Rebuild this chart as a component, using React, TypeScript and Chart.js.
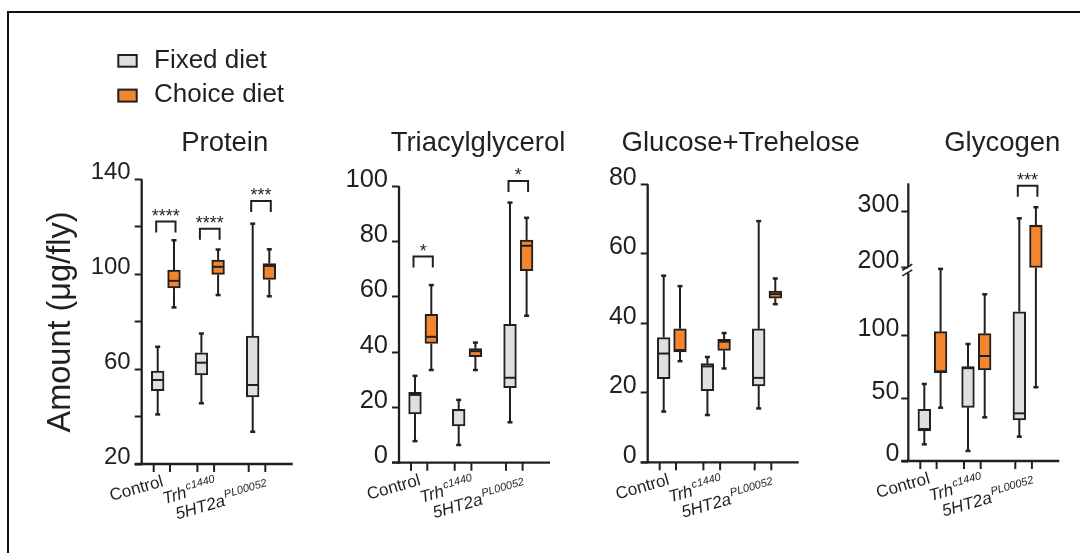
import React, { useEffect, useRef } from "react";
import { Chart, registerables } from "chart.js";

Chart.register(...registerables);

// ---------------- data ----------------
const genotypes = ["Control", "Trh", "5HT2a"];
const genotypeSup = ["", "c1440", "PL00052"];
const genotypeItalic = [false, true, true];
const diets = ["Fixed diet", "Choice diet"];
const titles = ["Protein", "Triacylglycerol", "Glucose+Trehelose", "Glycogen"];
const yAxisTitle = "Amount (μg/fly)";

// five-number summaries per genotype: [min, q1, median, q3, max]
const proteinFixed = [[40.9, 50.9, 55.4, 59.2, 69.4], [45.6, 57.5, 62.7, 66.9, 75], [33.6, 48.3, 53.3, 73.9, 121.3]];
const proteinChoice = [[86, 94.2, 97.2, 101.7, 114.3], [91.2, 99.9, 103.1, 105.9, 110.4], [90.7, 97.8, 103.5, 104.5, 110.5]];
const tagFixed = [[7.8, 17.6, 24.5, 25.4, 31.4], [6.4, 13.3, 19, 19.3, 22.7], [14.6, 27.1, 30.7, 50, 94]];
const tagChoice = [[33.5, 43.1, 45.5, 53.6, 64.2], [33.5, 38.3, 40.3, 41.2, 43.4], [53.1, 69.4, 78.4, 80.5, 88.5]];
const glucoseFixed = [[14.6, 24.1, 31.3, 35.9, 53.7], [13.6, 20.6, 27.6, 28.4, 30.3], [15.5, 22, 24.3, 38.4, 69.4]];
const glucoseChoice = [[29.1, 31.8, 32.3, 38.4, 50.7], [27, 32.2, 34.7, 35.4, 37.2], [45.5, 47.2, 48.4, 49.3, 52.9]];
const glycogenFixed = [[13.3, 23.9, 25.5, 41.2, 61.4], [8, 42.8, 74, 75.2, 93.3], [19.4, 32.7, 38, 119, 288]];
const glycogenChoice = [[42.5, 70.4, 71.5, 103.1, 185], [34.8, 72.6, 83.7, 101.5, 132.9], [58.8, 197, 274, 276, 308]];

// y ticks
const proteinTicks = [20, 40, 60, 80, 100, 120, 140];
const proteinTickLabels = ["20", "", "60", "", "100", "", "140"];
const tagTicks = [0, 20, 40, 60, 80, 100];
const tagTickLabels = ["0", "20", "40", "60", "80", "100"];
const glucoseTicks = [0, 20, 40, 60, 80];
const glucoseTickLabels = ["0", "20", "40", "60", "80"];
const glycogenTicks = [0, 50, 100, 200, 300];
const glycogenTickLabels = ["0", "50", "100", "200", "300"];

// axis ranges
const proteinRange = [20, 140];
const tagRange = [0, 100];
const glucoseRange = [0, 80];
const glycogenRange = [0, 351];
const glycogenBreak = [150, 200];

// significance brackets
const proteinSigGroups = [0, 1, 2];
const proteinSigLevels = [122.2, 119.2, 130.9];
const proteinSigLabels = ["****", "****", "***"];
const tagSigGroups = [0, 2];
const tagSigLevels = [74.5, 101.8];
const tagSigLabels = ["*", "*"];
const glucoseSigGroups: number[] = [];
const glucoseSigLevels: number[] = [];
const glucoseSigLabels: string[] = [];
const glycogenSigGroups = [2];
const glycogenSigLevels = [346.8];
const glycogenSigLabels = ["***"];

// ---------------- style / layout ----------------
const FONT = '"Liberation Sans", Arial, Helvetica, sans-serif';
const INK = "#231f20";
const GREY = "#e0dfdf";
const ORANGE = "#f3862d";
const FILLS = [GREY, ORANGE];
const SLOTS = [16, 32.3, 59.7, 76.4, 111, 127.6];
const XMAX = 151;
const BOX_W = 12.7;
const H = 553;
const GEOM = [
  { axisX: 141.7, top: 179.3, bottom: 464, titleDx: 83, tickPad: 4, tickFont: 24 },
  { axisX: 399, top: 186, bottom: 462.7, titleDx: 79, tickPad: 4, tickFont: 25.5 },
  { axisX: 647.7, top: 184.3, bottom: 462.3, titleDx: 93, tickPad: 4, tickFont: 25 },
  { axisX: 908.3, top: 183.3, bottom: 461, titleDx: 94, tickPad: 2, tickFont: 25 },
];
const LABEL_ANCHORS = [[6.5, 22], [-13.7, 33.5], [-26.5, 41.5]];

const identity = (v: number) => v;
const GAP_U = 4.5;
const UP_RATIO = 0.443;
const glyTf = (v: number) => {
  const [lo, hi] = glycogenBreak;
  if (v <= lo) return v;
  if (v >= hi) return lo + GAP_U + (v - hi) * UP_RATIO;
  return lo + ((v - lo) / (hi - lo)) * GAP_U;
};

type Panel = {
  fixed: number[][];
  choice: number[][];
  ticks: number[];
  tickLabels: string[];
  range: number[];
  sigGroups: number[];
  sigLevels: number[];
  sigLabels: string[];
  tf: (v: number) => number;
  brk?: boolean;
};

const PANELS: Panel[] = [
  { fixed: proteinFixed, choice: proteinChoice, ticks: proteinTicks, tickLabels: proteinTickLabels, range: proteinRange, sigGroups: proteinSigGroups, sigLevels: proteinSigLevels, sigLabels: proteinSigLabels, tf: identity },
  { fixed: tagFixed, choice: tagChoice, ticks: tagTicks, tickLabels: tagTickLabels, range: tagRange, sigGroups: tagSigGroups, sigLevels: tagSigLevels, sigLabels: tagSigLabels, tf: identity },
  { fixed: glucoseFixed, choice: glucoseChoice, ticks: glucoseTicks, tickLabels: glucoseTickLabels, range: glucoseRange, sigGroups: glucoseSigGroups, sigLevels: glucoseSigLevels, sigLabels: glucoseSigLabels, tf: identity },
  { fixed: glycogenFixed, choice: glycogenChoice, ticks: glycogenTicks, tickLabels: glycogenTickLabels, range: glycogenRange, sigGroups: glycogenSigGroups, sigLevels: glycogenSigLevels, sigLabels: glycogenSigLabels, tf: glyTf, brk: true },
];

function canvasGeom(i: number) {
  const g = GEOM[i];
  const left = i === 0 ? 0 : Math.round(g.axisX - 95);
  const right = Math.min(1080, Math.round(g.axisX + XMAX + 75));
  return { left, width: right - left };
}

function line(ctx: CanvasRenderingContext2D, x1: number, y1: number, x2: number, y2: number) {
  ctx.beginPath();
  ctx.moveTo(x1, y1);
  ctx.lineTo(x2, y2);
  ctx.stroke();
}

function makePlugin(p: Panel, i: number) {
  const g = GEOM[i];
  const series = [p.fixed, p.choice];
  return {
    id: "boxExtras" + i,
    beforeDatasetsDraw(chart: any) {
      const ctx: CanvasRenderingContext2D = chart.ctx;
      const xs = chart.scales.x;
      const ys = chart.scales.y;
      ctx.save();
      ctx.strokeStyle = INK;
      series.forEach((ser, k) => {
        ser.forEach((s, gi) => {
          const x = xs.getPixelForValue(SLOTS[2 * gi + k]);
          const yMin = ys.getPixelForValue(p.tf(s[0]));
          const yQ1 = ys.getPixelForValue(p.tf(s[1]));
          const yQ3 = ys.getPixelForValue(p.tf(s[3]));
          const yMax = ys.getPixelForValue(p.tf(s[4]));
          ctx.lineWidth = 2;
          line(ctx, x, yQ3, x, yMax);
          line(ctx, x, yQ1, x, yMin);
          ctx.lineWidth = 2.5;
          line(ctx, x - 2.5, yMax, x + 2.5, yMax);
          line(ctx, x - 2.5, yMin, x + 2.5, yMin);
        });
      });
      ctx.restore();
    },
    afterDatasetsDraw(chart: any) {
      const ctx: CanvasRenderingContext2D = chart.ctx;
      const xs = chart.scales.x;
      const ys = chart.scales.y;
      ctx.save();
      ctx.strokeStyle = INK;
      ctx.lineWidth = 2;
      series.forEach((ser, k) => {
        ser.forEach((s, gi) => {
          const x = xs.getPixelForValue(SLOTS[2 * gi + k]);
          const y = ys.getPixelForValue(p.tf(s[2]));
          line(ctx, x - BOX_W / 2 + 1, y, x + BOX_W / 2 - 1, y);
        });
      });
      ctx.restore();
    },
    afterDraw(chart: any) {
      const ctx: CanvasRenderingContext2D = chart.ctx;
      const xs = chart.scales.x;
      const ys = chart.scales.y;
      const ax = xs.getPixelForValue(0);
      const xr = xs.getPixelForValue(XMAX);
      const yb = ys.getPixelForValue(p.tf(p.range[0]));
      const yt = ys.getPixelForValue(p.tf(p.range[1]));
      ctx.save();
      ctx.strokeStyle = INK;
      ctx.fillStyle = INK;
      ctx.lineCap = "butt";
      // axes
      ctx.lineWidth = 2.3;
      line(ctx, ax - 7, yb, xr, yb);
      if (p.brk) {
        const yLo = ys.getPixelForValue(p.tf(glycogenBreak[0]));
        const yHi = ys.getPixelForValue(p.tf(glycogenBreak[1]));
        line(ctx, ax, yb + 1, ax, yLo);
        line(ctx, ax, yHi, ax, yt);
        ctx.lineWidth = 1.6;
        line(ctx, ax - 6, yLo + 3, ax + 4, yLo - 3);
        line(ctx, ax - 6, yHi + 3, ax + 4, yHi - 3);
      } else {
        line(ctx, ax, yb + 1, ax, yt);
      }
      // x ticks
      ctx.lineWidth = 2;
      SLOTS.forEach((s) => {
        const x = xs.getPixelForValue(s) - 4;
        line(ctx, x, yb, x, yb + 8);
      });
      // brackets
      p.sigGroups.forEach((gi, j) => {
        const x1 = xs.getPixelForValue(SLOTS[2 * gi]) - 1.5;
        const x2 = xs.getPixelForValue(SLOTS[2 * gi + 1]) + 1.5;
        const y = ys.getPixelForValue(p.tf(p.sigLevels[j]));
        ctx.lineWidth = 2;
        ctx.beginPath();
        ctx.moveTo(x1, y + 11);
        ctx.lineTo(x1, y);
        ctx.lineTo(x2, y);
        ctx.lineTo(x2, y + 11);
        ctx.stroke();
        ctx.font = "18px " + FONT;
        ctx.textAlign = "center";
        ctx.textBaseline = "alphabetic";
        const m = ctx.measureText(p.sigLabels[j]);
        const center = y - 9.5;
        const base = center + (m.actualBoundingBoxAscent - m.actualBoundingBoxDescent) / 2;
        ctx.fillText(p.sigLabels[j], (x1 + x2) / 2, base);
      });
      // title
      ctx.font = "27.5px " + FONT;
      ctx.textAlign = "center";
      ctx.textBaseline = "alphabetic";
      ctx.fillText(titles[i], ax + g.titleDx, 151.4);
      // x labels
      genotypes.forEach((name, gi) => {
        const [dx, dy] = LABEL_ANCHORS[gi];
        const x = xs.getPixelForValue(SLOTS[2 * gi]) + dx;
        const y = yb + dy;
        ctx.save();
        ctx.translate(x, y);
        ctx.rotate((-16 * Math.PI) / 180);
        ctx.font = (genotypeItalic[gi] ? "italic " : "") + "17px " + FONT;
        ctx.textAlign = "right";
        ctx.fillText(name, 0, 0);
        if (genotypeSup[gi]) {
          ctx.font = "italic 11px " + FONT;
          ctx.textAlign = "left";
          ctx.fillText(genotypeSup[gi], 1, -7.5);
        }
        ctx.restore();
      });
      if (i === 0) {
        // y-axis title
        ctx.save();
        ctx.translate(70, 322);
        ctx.rotate(-Math.PI / 2);
        ctx.font = "32.5px " + FONT;
        ctx.textAlign = "center";
        ctx.fillText(yAxisTitle, 0, 0);
        ctx.restore();
        // legend
        const boxes = [[118.3, 55, 18.4, 11.7, 68], [118.3, 89.6, 18.4, 12, 102]];
        diets.forEach((d, k) => {
          const [bx, by, bw, bh, base] = boxes[k];
          ctx.fillStyle = FILLS[k];
          ctx.fillRect(bx, by, bw, bh);
          ctx.lineWidth = 2;
          ctx.strokeStyle = INK;
          ctx.strokeRect(bx, by, bw, bh);
          ctx.fillStyle = INK;
          ctx.font = "26px " + FONT;
          ctx.textAlign = "left";
          ctx.fillText(d, 154, base);
        });
      }
      ctx.restore();
    },
  };
}

function makeChart(canvas: HTMLCanvasElement, p: Panel, i: number) {
  const g = GEOM[i];
  const cg = canvasGeom(i);
  const yAxisW = 60;
  const datasets = [p.fixed, p.choice].map((ser, k) => ({
    label: diets[k],
    data: ser.map((s, gi) => ({ x: SLOTS[2 * gi + k], y: [p.tf(s[1]), p.tf(s[3])] })),
    backgroundColor: FILLS[k],
    borderColor: INK,
    borderWidth: 2,
    borderSkipped: false,
    barThickness: BOX_W,
    grouped: false,
  }));
  return new Chart(canvas, {
    type: "bar",
    data: { datasets } as any,
    plugins: [makePlugin(p, i)],
    options: {
      animation: false,
      responsive: false,
      events: [],
      layout: {
        padding: {
          left: g.axisX - cg.left - yAxisW,
          right: cg.width - (g.axisX - cg.left) - XMAX,
          top: g.top,
          bottom: H - g.bottom,
        },
      },
      plugins: { legend: { display: false }, tooltip: { enabled: false }, title: { display: false } },
      scales: {
        x: { type: "linear", display: false, min: 0, max: XMAX, offset: false },
        y: {
          type: "linear",
          min: p.tf(p.range[0]),
          max: p.tf(p.range[1]),
          beginAtZero: false,
          afterFit: (scale: any) => {
            scale.width = yAxisW;
          },
          afterBuildTicks: (scale: any) => {
            scale.ticks = p.ticks.map((v) => ({ value: p.tf(v) }));
          },
          border: { display: false },
          grid: { drawOnChartArea: false, drawTicks: true, tickLength: 7, tickWidth: 2, color: INK },
          ticks: {
            autoSkip: false,
            padding: g.tickPad,
            labelOffset: -6.5,
            color: INK,
            font: { family: FONT, size: g.tickFont },
            callback: (_v: any, idx: number) => p.tickLabels[idx],
          },
        },
      },
    } as any,
  });
}

export default function App() {
  const canvasRefs = useRef<(HTMLCanvasElement | null)[]>([]);
  useEffect(() => {
    const charts = PANELS.map((p, i) => makeChart(canvasRefs.current[i] as HTMLCanvasElement, p, i));
    return () => charts.forEach((c) => c.destroy());
  }, []);
  return (
    <div style={{ position: "absolute", left: 0, top: 0, width: 1080, height: H, overflow: "hidden", background: "#fff" }}>
      <div
        style={{
          position: "absolute",
          left: 7,
          top: 11,
          width: 1200,
          height: 700,
          borderTop: "2px solid #111",
          borderLeft: "2px solid #111",
        }}
      />
      {PANELS.map((_p, i) => {
        const cg = canvasGeom(i);
        return (
          <canvas
            key={i}
            ref={(el) => {
              canvasRefs.current[i] = el;
            }}
            width={cg.width}
            height={H}
            style={{ position: "absolute", left: cg.left, top: 0, width: cg.width, height: H }}
          />
        );
      })}
    </div>
  );
}
